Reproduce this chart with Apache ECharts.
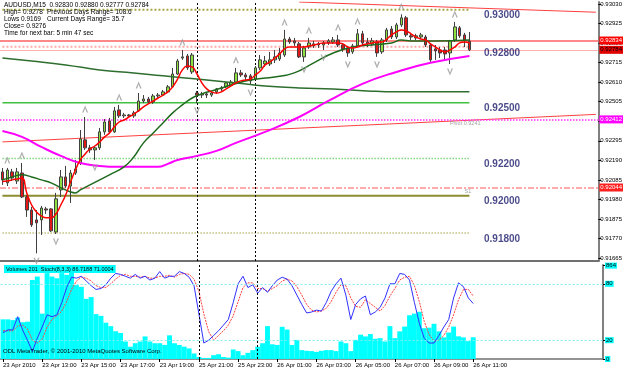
<!DOCTYPE html>
<html><head><meta charset="utf-8">
<script src="https://cdn.jsdelivr.net/npm/echarts@6/dist/echarts.min.js"></script>
<style>html,body{margin:0;padding:0;background:#fff}#c{width:625px;height:370px}</style>
</head><body><div id="c"></div>
<script>
// ---------- data (AUDUSD M15) ----------
const barOpen = [0.92128,0.92069,0.92128,0.92079,0.92122,0.91993,0.91923,0.91870,0.91870,0.91929,
0.91929,0.91805,0.92031,0.92101,0.92052,0.92122,0.92176,0.92300,0.92257,0.92246,
0.92257,0.92343,0.92402,0.92343,0.92461,0.92429,0.92434,0.92429,0.92456,0.92509,
0.92520,0.92504,0.92536,0.92541,0.92558,0.92585,0.92654,0.92740,0.92751,0.92665,
0.92552,0.92541,0.92547,0.92541,0.92558,0.92574,0.92585,0.92595,0.92611,0.92660,
0.92649,0.92644,0.92627,0.92687,0.92708,0.92708,0.92730,0.92735,0.92756,0.92842,
0.92832,0.92816,0.92746,0.92799,0.92805,0.92816,0.92810,0.92821,0.92826,0.92837,
0.92810,0.92794,0.92773,0.92805,0.92870,0.92826,0.92816,0.92826,0.92773,0.92837,
0.92896,0.92853,0.92918,0.92956,0.92859,0.92848,0.92853,0.92853,0.92810,0.92789,
0.92783,0.92783,0.92767,0.92837,0.92902,0.92864,0.92830];
const barHigh = [0.92149,0.92149,0.92144,0.92149,0.92176,0.92004,0.91940,0.91923,0.91945,0.91940,
0.91934,0.92015,0.92138,0.92160,0.92138,0.92192,0.92353,0.92423,0.92273,0.92267,
0.92364,0.92412,0.92418,0.92477,0.92488,0.92445,0.92439,0.92456,0.92552,0.92541,
0.92531,0.92547,0.92552,0.92568,0.92595,0.92687,0.92735,0.92783,0.92762,0.92767,
0.92563,0.92558,0.92558,0.92563,0.92579,0.92590,0.92611,0.92622,0.92687,0.92676,
0.92660,0.92654,0.92697,0.92756,0.92751,0.92773,0.92783,0.92794,0.92891,0.92853,
0.92848,0.92826,0.92805,0.92848,0.92832,0.92826,0.92832,0.92842,0.92853,0.92864,
0.92821,0.92805,0.92816,0.92896,0.92886,0.92848,0.92848,0.92837,0.92848,0.92902,
0.92912,0.92929,0.92975,0.92966,0.92875,0.92870,0.92875,0.92864,0.92821,0.92810,
0.92799,0.92799,0.92837,0.92934,0.92912,0.92875,0.92880];
const barLow = [0.92058,0.92052,0.92079,0.92063,0.91988,0.91886,0.91832,0.91690,0.91789,0.91902,
0.91805,0.91794,0.91993,0.92042,0.91961,0.92112,0.92165,0.92246,0.92230,0.92192,
0.92246,0.92327,0.92332,0.92337,0.92418,0.92418,0.92418,0.92418,0.92450,0.92498,
0.92493,0.92493,0.92525,0.92536,0.92552,0.92579,0.92649,0.92730,0.92676,0.92654,
0.92498,0.92525,0.92525,0.92531,0.92547,0.92563,0.92579,0.92590,0.92606,0.92638,
0.92622,0.92595,0.92622,0.92676,0.92692,0.92697,0.92713,0.92724,0.92746,0.92816,
0.92805,0.92740,0.92719,0.92789,0.92794,0.92794,0.92783,0.92810,0.92816,0.92799,
0.92773,0.92746,0.92762,0.92799,0.92810,0.92799,0.92805,0.92746,0.92762,0.92826,
0.92842,0.92842,0.92907,0.92853,0.92837,0.92837,0.92842,0.92799,0.92719,0.92730,
0.92740,0.92730,0.92708,0.92826,0.92848,0.92799,0.92777];
const barClose = [0.92085,0.92138,0.92095,0.92128,0.91993,0.91923,0.91843,0.91854,0.91934,0.91923,
0.91811,0.91983,0.92101,0.92052,0.92122,0.92144,0.92305,0.92257,0.92246,0.92257,
0.92343,0.92396,0.92343,0.92456,0.92429,0.92434,0.92429,0.92445,0.92509,0.92520,
0.92504,0.92536,0.92541,0.92558,0.92585,0.92654,0.92724,0.92746,0.92687,0.92756,
0.92541,0.92547,0.92541,0.92552,0.92574,0.92579,0.92606,0.92611,0.92660,0.92649,
0.92638,0.92617,0.92687,0.92730,0.92724,0.92730,0.92746,0.92767,0.92842,0.92826,
0.92821,0.92746,0.92794,0.92821,0.92816,0.92810,0.92821,0.92832,0.92837,0.92810,
0.92789,0.92767,0.92805,0.92870,0.92821,0.92816,0.92832,0.92767,0.92837,0.92891,
0.92853,0.92918,0.92956,0.92864,0.92853,0.92859,0.92864,0.92810,0.92730,0.92778,
0.92767,0.92762,0.92832,0.92907,0.92859,0.92837,0.92784];

const maFast = [0.92076,0.92079,0.92085,0.92090,0.92095,0.92015,0.91950,0.91913,0.91891,0.91881,
0.91881,0.91902,0.91950,0.92004,0.92074,0.92138,0.92192,0.92224,0.92251,0.92267,
0.92289,0.92316,0.92337,0.92370,0.92396,0.92407,0.92423,0.92439,0.92456,0.92477,
0.92493,0.92509,0.92525,0.92541,0.92558,0.92585,0.92627,0.92676,0.92697,0.92692,
0.92654,0.92606,0.92574,0.92558,0.92552,0.92558,0.92574,0.92590,0.92606,0.92617,
0.92622,0.92627,0.92649,0.92670,0.92703,0.92719,0.92740,0.92762,0.92789,0.92799,
0.92799,0.92799,0.92799,0.92805,0.92810,0.92816,0.92821,0.92821,0.92821,0.92821,
0.92816,0.92799,0.92794,0.92799,0.92810,0.92816,0.92821,0.92826,0.92826,0.92842,
0.92864,0.92880,0.92891,0.92885,0.92870,0.92853,0.92842,0.92837,0.92816,0.92799,
0.92783,0.92773,0.92783,0.92799,0.92821,0.92826,0.92821];

const maMidIdx = [0,2,4,6,8,10,12,14,15,16,18,20,22,25,27,29,31,33,35,37,39,41,43,45,47,51,56,60,64,68,72,76,80,82,84,89,96];
const maMidVal = [0.92085,0.92101,0.92112,0.92101,0.92085,0.92069,0.92042,0.92020,0.92015,0.92031,0.92058,0.92085,0.92112,0.92155,0.92208,0.92284,0.92337,0.92391,0.92445,0.92488,0.92525,0.92547,0.92563,0.92579,0.92595,0.92622,0.92638,0.92660,0.92714,0.92767,0.92799,0.92810,0.92821,0.92837,0.92832,0.92832,0.92837];

const maSlowIdx = [0,6,13,20,27,33,40,48,54,61,68,75,81,96];
const maSlowVal = [0.92740,0.92724,0.92703,0.92676,0.92660,0.92644,0.92627,0.92606,0.92590,0.92579,0.92574,0.92563,0.92558,0.92558];

const maMagIdx = [0,4,8,12,16,20,24,28,32,34,36,40,44,48,54,61,67,74,81,88,96];
const maMagVal = [0.92348,0.92316,0.92262,0.92214,0.92176,0.92160,0.92155,0.92155,0.92155,0.92171,0.92192,0.92214,0.92241,0.92284,0.92343,0.92423,0.92509,0.92601,0.92665,0.92714,0.92751];

const fracUpIdx = [1,4,17,24,28,37,48,58,63,69,73,82,93];
const fracDnIdx = [7,11,19,40,51,62,66,71,77,92];

const volumes = [367,367,360,383,340,345,731,763,420,795,
763,747,795,779,864,684,668,557,573,415,
399,336,304,257,241,162,114,146,162,209,
162,146,146,130,219,146,130,114,98,51,
19,10,10,35,44,19,13,88,73,35,
57,82,114,146,304,136,130,298,272,130,
177,82,76,73,66,76,82,82,73,162,
146,73,177,225,209,231,187,193,162,304,
193,256,300,405,420,437,285,290,326,256,
200,245,300,210,200,165,201];

const stochMain = [28,31,31,45,31,20,8,22,34,47,
45,47,60,76,87,86,88,83,78,74,
75,79,86,91,90,88,86,90,86,88,
84,86,93,86,88,88,93,91,87,78,
48,17,20,25,30,36,42,60,80,88,
76,79,70,76,71,78,84,87,85,78,
68,58,49,50,52,51,60,72,80,86,
68,42,58,64,67,47,50,55,65,80,
80,91,90,84,60,38,22,17,17,25,
34,42,65,81,77,65,59];
const stochSignal = [30,30,30,35,36,32,20,17,21,34,
42,46,51,61,74,83,87,86,83,78,
76,76,80,85,89,90,88,88,87,88,
86,86,88,88,89,87,90,91,90,85,
72,48,29,20,25,30,36,46,61,76,
81,81,75,75,72,75,78,83,85,83,
77,68,58,52,50,51,54,61,71,79,
78,65,56,55,63,59,55,51,57,67,
75,84,87,88,78,61,40,26,19,20,
25,34,47,63,74,74,67];

const tickIdx = [0,8,16,24,32,40,48,56,64,72,80,88,96];
const tickText = ['23 Apr 2010','23 Apr 13:00','23 Apr 15:00','23 Apr 17:00','23 Apr 19:00','25 Apr 21:00','25 Apr 23:00','26 Apr 01:00','26 Apr 03:00','26 Apr 05:00','26 Apr 07:00','26 Apr 09:00','26 Apr 11:00'];
const priceTicks = [0.93030,0.92925,0.92820,0.92715,0.92610,0.92505,0.92400,0.92295,0.92190,0.92085,0.91980,0.91875,0.91770,0.91665];

const levelVals = [0.93000,0.92800,0.92500,0.92200,0.92000,0.91800];
const askPrice = 0.92834, bidPrice = 0.92784, pivotPrice = 0.92410, s1Price = 0.92044;
const trendTop = [[61,0.93041],[122,0.92986]];
const trendLow = [[0,0.92289],[122,0.92437]];
const lastBar = 96;
const daySeps = [40,52];

// ---------- styles ----------
const FONT = 'Liberation Sans';
const levelStyles = [
  {color:'#a8a848',type:'dotted',width:2},
  {color:'#ffa8a8',type:'dotted',width:2},
  {color:'#40c040',type:'solid',width:1.5},
  {color:'#80d880',type:'dotted',width:1.5},
  {color:'#8c8c30',type:'solid',width:2},
  {color:'#c0c080',type:'dotted',width:1.5}
];

const cats = Array.from({length:123},(_,i)=>String(i));
const candleData = barOpen.map((o,i)=>[o,barClose[i],barLow[i],barHigh[i]]);
const pairs = (idx,val)=>idx.map((x,i)=>[x,val[i]]);

const series = [];
levelVals.forEach((v,i)=>{
  series.push({type:'line',xAxisIndex:0,yAxisIndex:0,data:[[0,v],[lastBar,v]],symbol:'none',silent:true,
    lineStyle:levelStyles[i],z:1});
});
[trendTop,trendLow].forEach(d=>series.push({type:'line',xAxisIndex:0,yAxisIndex:0,data:d,symbol:'none',silent:true,
  lineStyle:{color:'#ff4040',width:1},z:1}));

const edgeLabel = (txt,bg,fg)=>({show:true,position:'end',formatter:txt,backgroundColor:bg,color:fg,
  fontSize:6,fontFamily:FONT,padding:[1,1,1,1],distance:1});

series.push({type:'candlestick',xAxisIndex:0,yAxisIndex:0,data:candleData,barWidth:3,z:3,
  itemStyle:{color:'#8ee040',color0:'#e01818',borderColor:'#404040',borderColor0:'#404040',borderWidth:1},
  markLine:{symbol:['none','none'],silent:true,animation:false,precision:5,z:2,data:[
    {yAxis:askPrice,lineStyle:{color:'#ff6060',width:1.5,type:'solid'},label:edgeLabel('0.92834','#ff0000','#ffffff')},
    {yAxis:bidPrice,lineStyle:{color:'#ffb0b0',width:1,type:'solid'},label:edgeLabel('0.92784','#e00000','#000000')},
    {yAxis:pivotPrice,lineStyle:{color:'#ff30ff',width:1.5,type:'dotted'},label:edgeLabel('0.92412','#ff00ff','#ffffff')},
    {yAxis:s1Price,lineStyle:{color:'#ff9090',width:1.5,type:[6,2,2,2]},label:edgeLabel('0.92044','#ff2020','#ffffff')},
    {xAxis:daySeps[0],lineStyle:{color:'#000',width:1,type:[2,2]},label:{show:false}},
    {xAxis:daySeps[1],lineStyle:{color:'#000',width:1,type:[2,2]},label:{show:false}}
  ]}});

series.push({type:'line',xAxisIndex:0,yAxisIndex:0,data:pairs(maSlowIdx,maSlowVal),symbol:'none',smooth:true,lineStyle:{color:'#2e6e2e',width:1.5},z:4});
series.push({type:'line',xAxisIndex:0,yAxisIndex:0,data:pairs(maMagIdx,maMagVal),symbol:'none',smooth:true,lineStyle:{color:'#ff00ff',width:2},z:4});
series.push({type:'line',xAxisIndex:0,yAxisIndex:0,data:pairs(maMidIdx,maMidVal),symbol:'none',smooth:true,lineStyle:{color:'#1e6a1e',width:1.5},z:4});
series.push({type:'line',xAxisIndex:0,yAxisIndex:0,data:maFast,symbol:'none',smooth:true,lineStyle:{color:'#ff0000',width:1.5},z:5});

series.push({type:'scatter',xAxisIndex:0,yAxisIndex:0,data:fracUpIdx.map(i=>[i,barHigh[i]]),
  symbol:'path://M0,10 L5,0 L10,10 L7.5,10 L5,4 L2.5,10 Z',symbolSize:[6,7],symbolOffset:[0,-8],
  itemStyle:{color:'#9a9a9a'},z:6,silent:true});
series.push({type:'scatter',xAxisIndex:0,yAxisIndex:0,data:fracDnIdx.map(i=>[i,barLow[i]]),
  symbol:'path://M0,0 L5,10 L10,0 L7.5,0 L5,6 L2.5,0 Z',symbolSize:[6,7],symbolOffset:[0,8],
  itemStyle:{color:'#9a9a9a'},z:6,silent:true});

series.push({type:'scatter',xAxisIndex:0,yAxisIndex:0,data:levelVals.map(v=>[99,v]),symbolSize:0,silent:true,z:7,
  label:{show:true,position:'right',distance:0,offset:[0,6],formatter:p=>p.value[1].toFixed(5),
    color:'#1c1c6c',fontWeight:'bold',fontSize:10,fontFamily:FONT}});
series.push({type:'scatter',xAxisIndex:0,yAxisIndex:0,data:[[92,pivotPrice]],symbolSize:0,silent:true,z:7,
  label:{show:true,position:'right',distance:0,offset:[0,4],formatter:'Pivot 0.9241',color:'#888',fontSize:5.5,fontFamily:FONT}});
series.push({type:'scatter',xAxisIndex:0,yAxisIndex:0,data:[[95,s1Price]],symbolSize:0,silent:true,z:7,
  label:{show:true,position:'right',distance:0,offset:[0,4],formatter:'S1',color:'#888',fontSize:5.5,fontFamily:FONT}});

series.push({type:'bar',xAxisIndex:1,yAxisIndex:1,data:volumes,barWidth:'100%',barCategoryGap:'0%',
  itemStyle:{color:'#00ffff'},z:1,silent:true,
  markLine:{symbol:['none','none'],silent:true,animation:false,data:daySeps.map(x=>({xAxis:x,lineStyle:{color:'#000',width:1,type:[2,2]},label:{show:false}}))}});
series.push({type:'line',xAxisIndex:1,yAxisIndex:2,data:stochSignal,symbol:'none',lineStyle:{color:'#ff4040',width:1,type:[2,1]},z:3,
  markLine:{symbol:['none','none'],silent:true,animation:false,data:[
    {yAxis:80,lineStyle:{color:'#80f0f0',width:1,type:[2,2]},label:{show:false}},
    {yAxis:20,lineStyle:{color:'#80f0f0',width:1,type:[2,2]},label:{show:false}}]}});
series.push({type:'line',xAxisIndex:1,yAxisIndex:2,data:stochMain,symbol:'none',lineStyle:{color:'#3030ff',width:1},z:4});

const lblFn = i=>tickIdx.indexOf(i)>=0;
const HF = '6.5px "Liberation Sans"';

const option = {
  animation:false,
  backgroundColor:'#ffffff',
  textStyle:{fontFamily:FONT},
  grid:[
    {left:0,right:22,top:2,bottom:109},
    {left:0,right:22,top:265,bottom:11}
  ],
  xAxis:[
    {type:'category',gridIndex:0,data:cats,boundaryGap:true,axisLabel:{show:false},axisTick:{show:false},
      axisLine:{show:true,lineStyle:{color:'#707070',width:2}},splitLine:{show:false}},
    {type:'category',gridIndex:1,data:cats,boundaryGap:true,
      axisLine:{show:true,lineStyle:{color:'#707070',width:1.5}},
      axisTick:{show:true,interval:lblFn,alignWithLabel:true,length:3,lineStyle:{color:'#000'}},
      axisLabel:{show:true,interval:lblFn,formatter:(v,i)=>tickText[tickIdx.indexOf(i)],align:'left',
        margin:3,fontSize:6,color:'#000',fontFamily:FONT},
      splitLine:{show:false}}
  ],
  yAxis:[
    {type:'value',gridIndex:0,position:'right',min:0.91649,max:0.93041,scale:true,
      axisLine:{show:true,lineStyle:{color:'#808080',width:2}},
      axisTick:{show:true,customValues:priceTicks,length:3,inside:false,lineStyle:{color:'#000'}},
      axisLabel:{show:true,customValues:priceTicks,formatter:v=>v.toFixed(5),fontSize:6,margin:2,color:'#000',fontFamily:FONT},
      splitLine:{show:false}},
    {type:'value',gridIndex:1,position:'right',min:0,max:870,
      axisLine:{show:true,lineStyle:{color:'#808080',width:2}},
      axisTick:{show:true,customValues:[0,864],length:3,lineStyle:{color:'#000'}},
      axisLabel:{show:true,customValues:[0,864],fontSize:6,margin:2,color:'#000',backgroundColor:'#00ffff',padding:[0,1],fontFamily:FONT},
      splitLine:{show:false}},
    {type:'value',gridIndex:1,position:'right',min:0,max:100,
      axisLine:{show:false},
      axisTick:{show:true,customValues:[20,80],length:3,lineStyle:{color:'#000'}},
      axisLabel:{show:true,customValues:[20,80],fontSize:6,margin:2,color:'#000',backgroundColor:'#00ffff',padding:[0,1],fontFamily:FONT},
      splitLine:{show:false}}
  ],
  graphic:[
    {type:'text',left:4,top:2,z:100,style:{text:'AUDUSD,M15  0.92830 0.92880 0.92777 0.92784',font:HF,fill:'#000'}},
    {type:'text',left:4,top:9,z:100,style:{text:'High= 0.9278',font:HF,fill:'#000'}},
    {type:'text',left:47,top:9,z:100,style:{text:'Previous Days Range= 108.6',font:HF,fill:'#000'}},
    {type:'text',left:4,top:16,z:100,style:{text:'Lows 0.9169',font:HF,fill:'#000'}},
    {type:'text',left:47,top:16,z:100,style:{text:'Current Days Range= 35.7',font:HF,fill:'#000'}},
    {type:'text',left:4,top:23,z:100,style:{text:'Close= 0.9276',font:HF,fill:'#000'}},
    {type:'text',left:4,top:30,z:100,style:{text:'Time for next bar: 5 min 47 sec',font:HF,fill:'#000'}},
    {type:'text',left:4,top:265,z:100,style:{text:'Volumes 201  Stoch(8,3,3) 86.7188 71.0004',font:'5.5px "Liberation Sans"',fill:'#000',backgroundColor:'#00ffff',padding:[1,2]}},
    {type:'text',left:3,top:348,z:100,style:{text:'ODL MetaTrader, \u00a9 2001-2010 MetaQuotes Software Corp.',font:'6px "Liberation Sans"',fill:'#000'}}
  ],
  series:series
};
const chart = echarts.init(document.getElementById('c'),null,{renderer:'canvas'});
chart.setOption(option);
</script></body></html>
